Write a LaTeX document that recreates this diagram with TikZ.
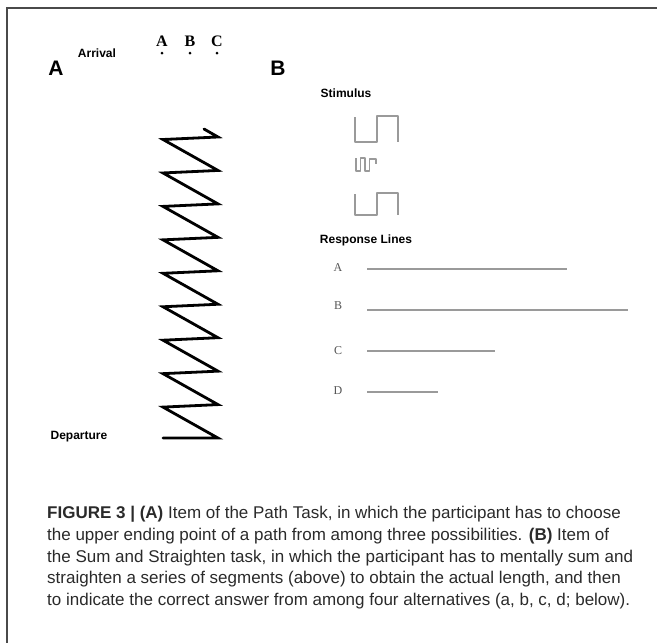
\documentclass[tikz,border=0pt]{standalone}
\usepackage{fontspec}
\setmainfont{Liberation Sans}
\newfontfamily\seriffont{Liberation Serif}
\definecolor{framec}{HTML}{4A4A4A}
\definecolor{stimgray}{HTML}{9A9A9A}
\definecolor{respgray}{HTML}{555555}
\definecolor{captext}{HTML}{2A2A2A}
\begin{document}
\begin{tikzpicture}[x=1pt,y=-1pt,
 lbl/.style={font=\bfseries\fontsize{12}{14}\selectfont, inner sep=0pt},
 panel/.style={font=\bfseries\fontsize{21}{24}\selectfont, inner sep=0pt},
 opt/.style={font=\seriffont\bfseries\fontsize{16}{18}\selectfont, inner sep=0pt},
 resp/.style={font=\seriffont\fontsize{12}{14}\selectfont, text=respgray, inner sep=0pt},
 stim/.style={draw=stimgray, line width=1.6pt, line join=round},
 rline/.style={draw=stimgray, line width=1.6pt},
 zig/.style={draw=black, line width=2.8pt, line join=miter, line cap=round},
 dot/.style={circle, fill=black, inner sep=0pt, minimum size=3pt},
 captxt/.style={font=\fontsize{17}{20}\selectfont, text=captext, anchor=base west, inner sep=0pt},
 frameline/.style={draw=framec, line width=1.5pt}]
\useasboundingbox (0,0) rectangle (657,643);
% frame
\draw[frameline] (7,643) -- (7,8) -- (657,8);
% panel labels
\node[panel] (pA) at (56,68) {A};
\node[panel] (pB) at (278,68) {B};
% panel A
\node[lbl] (arr) at (97,53) {Arrival};
\node[opt] (oA) at (162,41) {A};
\node[opt] (oB) at (190,41) {B};
\node[opt] (oC) at (217,41) {C};
\node[dot] (dA) at (162,53) {};
\node[dot] (dB) at (190,53) {};
\node[dot] (dC) at (217,53) {};
\node[lbl] (dep) at (79,437) {Departure};
\foreach \i in {0,...,9} { \coordinate (R\i) at (218,{137+33.45*\i}); }
\foreach \i in {0,...,8} { \coordinate (L\i) at (163,{139.5+33.45*\i}); }
\coordinate (L9) at (163,438);
\coordinate (tick) at (204,129);
\draw[zig] (tick) -- (R0) -- (L0) -- (R1) -- (L1) -- (R2) -- (L2) -- (R3) -- (L3) -- (R4) -- (L4)
  -- (R5) -- (L5) -- (R6) -- (L6) -- (R7) -- (L7) -- (R8) -- (L8) -- (R9) -- (L9);
% panel B
\node[lbl] (stimt) at (346,93) {Stimulus};
\draw[stim] (355,117) -- (355,142) -- (377,142) -- (377,116) -- (398,116) -- (398,142);
\draw[stim] (356,158) -- (356,171) -- (360.5,171) -- (360.5,158) -- (365,158) -- (365,171) -- (369.5,171) -- (369.5,159) -- (376,159) -- (376,164);
\draw[stim] (355,194) -- (355,215) -- (377,215) -- (377,193) -- (398,193) -- (398,215);
\node[lbl] (respt) at (366,240) {Response Lines};
\node[resp] (rA) at (338,268) {A};
\node[resp] (rB) at (338,306) {B};
\node[resp] (rC) at (338,351) {C};
\node[resp] (rD) at (338,391) {D};
\draw[rline] (367,269) -- (567,269);
\draw[rline] (367,310) -- (628,310);
\draw[rline] (367,351) -- (495,351);
\draw[rline] (367,392) -- (438,392);
% caption
\node[captxt] (c1) at (47,518) {\textbf{FIGURE 3 | (A)} Item of the Path Task, in which the participant has to choose};
\node[captxt] (c2) at (47,540) {the upper ending point of a path from among three possibilities. \textbf{(B)} Item of};
\node[captxt] (c3) at (47,562) {the Sum and Straighten task, in which the participant has to mentally sum and};
\node[captxt] (c4) at (47,583.5) {straighten a series of segments (above) to obtain the actual length, and then};
\node[captxt] (c5) at (47,605) {to indicate the correct answer from among four alternatives (a, b, c, d; below).};
\end{tikzpicture}
\end{document}
